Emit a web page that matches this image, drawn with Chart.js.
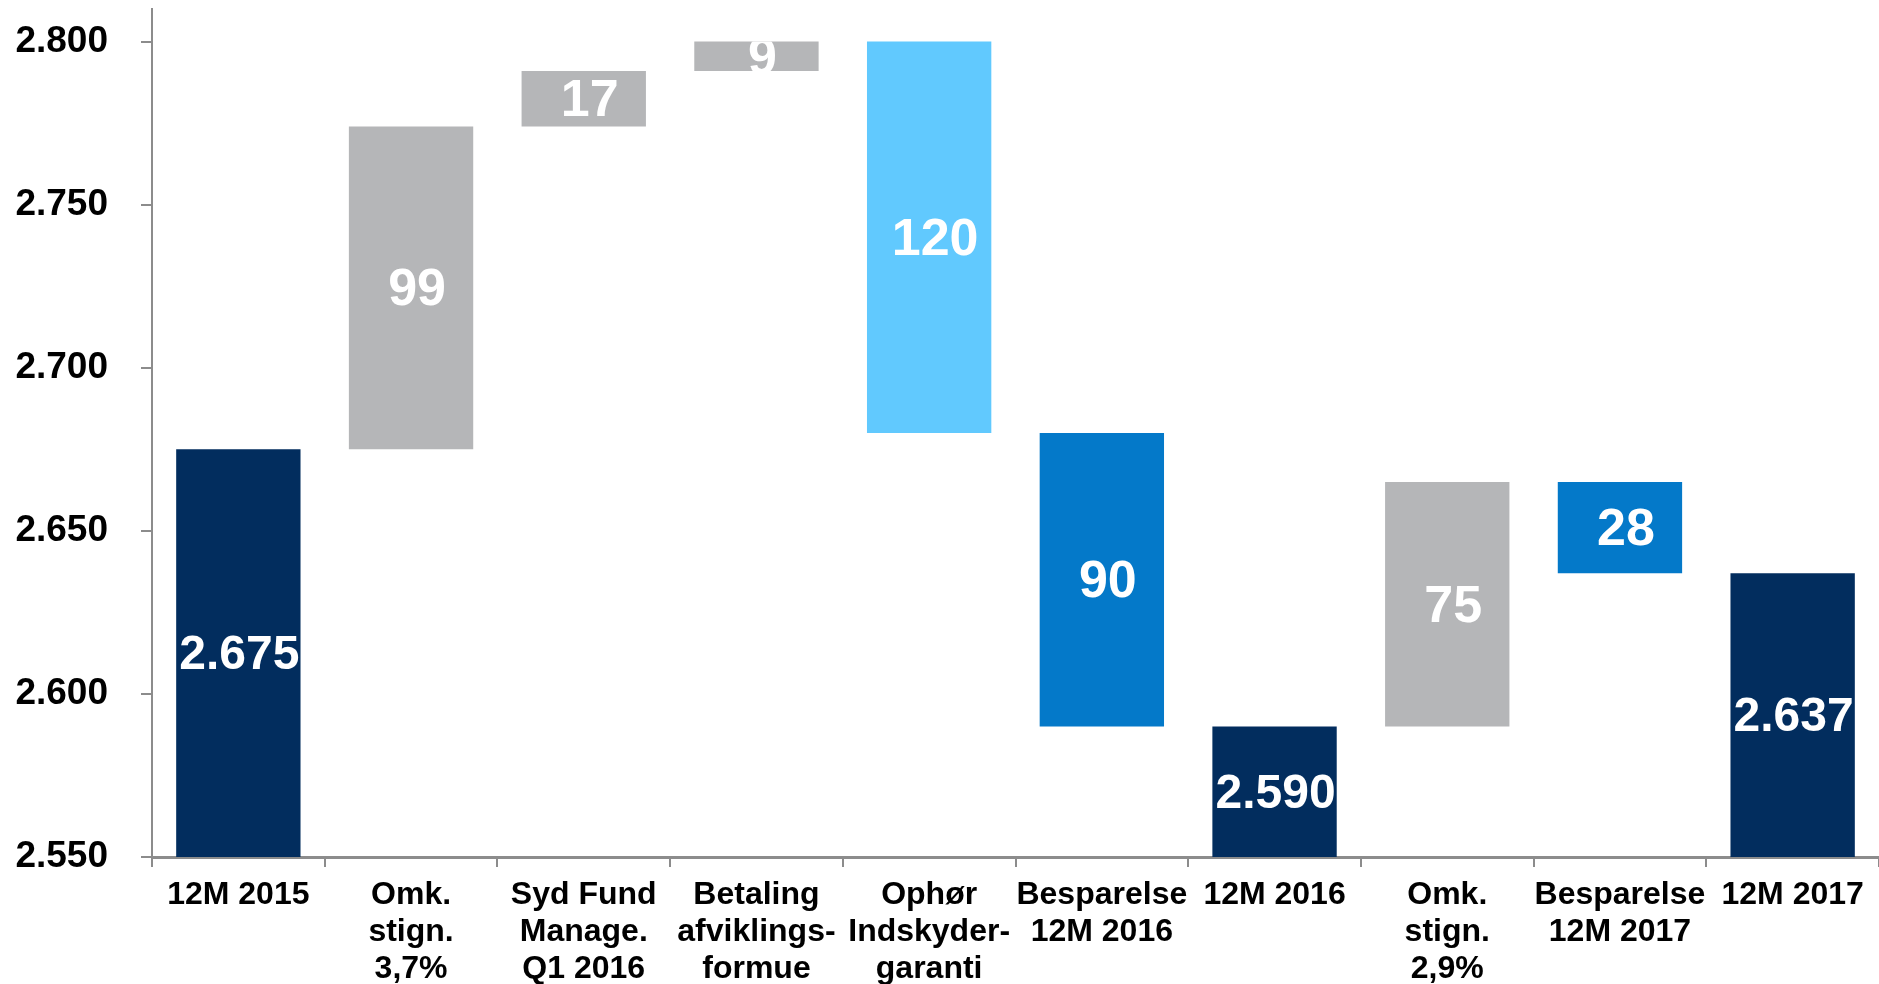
<!DOCTYPE html>
<html>
<head>
<meta charset="utf-8">
<style>
  html, body { margin: 0; padding: 0; background: #fff; }
  #wrap { width: 1879px; height: 984px; }
</style>
<script src="https://cdn.jsdelivr.net/npm/chart.js@4"></script>
</head>
<body>
<div id="wrap"><canvas id="costChart" width="1879" height="984"></canvas></div>
<script>
// Waterfall data (mio. kr.)
const categories = [
  ["12M 2015"],
  ["Omk.", "stign.", "3,7%"],
  ["Syd Fund", "Manage.", "Q1 2016"],
  ["Betaling", "afviklings-", "formue"],
  ["Ophør", "Indskyder-", "garanti"],
  ["Besparelse", "12M 2016"],
  ["12M 2016"],
  ["Omk.", "stign.", "2,9%"],
  ["Besparelse", "12M 2017"],
  ["12M 2017"]
];
const barStart = [2550, 2675, 2774, 2791, 2680, 2590, 2550, 2590, 2637, 2550];
const barEnd = [2675, 2774, 2791, 2800, 2800, 2680, 2590, 2665, 2665, 2637];
const barLabels = ["2.675", "99", "17", "9", "120", "90", "2.590", "75", "28", "2.637"];
const yTicks = [2550, 2600, 2650, 2700, 2750, 2800];

const barColors = ["#022d5e", "#b5b6b8", "#b5b6b8", "#b5b6b8", "#61c9fe", "#0479c9", "#022d5e", "#b5b6b8", "#0479c9", "#022d5e"];

const FONT = "'Liberation Sans', Arial, sans-serif";
const Y_MIN = 2550;

// white value labels, clipped to their bar like in the original slide
const barLabelPlugin = {
  id: "barLabels",
  afterDatasetsDraw(chart) {
    const ctx = chart.ctx;
    const meta = chart.getDatasetMeta(0);
    meta.data.forEach((bar, i) => {
      const top = Math.min(bar.y, bar.base);
      const h = Math.abs(bar.base - bar.y);
      const left = bar.x - bar.width / 2;
      const isTotal = barStart[i] === Y_MIN;
      ctx.save();
      ctx.beginPath();
      ctx.rect(left, top, bar.width, h);
      ctx.clip();
      ctx.fillStyle = "#ffffff";
      ctx.font = "bold " + (isTotal ? 48 : 52) + "px " + FONT;
      ctx.textAlign = "center";
      ctx.textBaseline = "middle";
      ctx.fillText(barLabels[i], bar.x + (isTotal ? 1 : 6), top + h / 2 + 3);
      ctx.restore();
    });
  }
};

new Chart(document.getElementById("costChart").getContext("2d"), {
  type: "bar",
  data: {
    labels: categories,
    datasets: [{
      data: barStart.map((s, i) => [s, barEnd[i]]),
      backgroundColor: barColors,
      borderWidth: 0,
      borderSkipped: false,
      categoryPercentage: 1,
      barPercentage: 0.72
    }]
  },
  options: {
    responsive: false,
    animation: false,
    layout: { padding: { top: 9, left: 0, right: 0, bottom: 0 } },
    plugins: {
      legend: { display: false },
      tooltip: { enabled: false }
    },
    scales: {
      x: {
        grid: {
          display: true,
          offset: true,
          drawOnChartArea: false,
          drawTicks: true,
          tickLength: 10,
          color: "#8c8c8c",
          lineWidth: 2
        },
        border: { display: true, color: "#8c8c8c", width: 3 },
        ticks: {
          color: "#000",
          font: { family: FONT, size: 32, weight: "bold", lineHeight: 1.15 },
          padding: 10,
          autoSkip: false,
          maxRotation: 0,
          minRotation: 0
        },
        afterFit(scale) {
          scale.height = 127;
          scale.paddingLeft = 0;
          scale.paddingRight = 0;
        }
      },
      y: {
        min: Y_MIN,
        max: 2810,
        afterBuildTicks(scale) {
          scale.ticks = yTicks.map(v => ({ value: v }));
        },
        grid: {
          display: true,
          drawOnChartArea: false,
          drawTicks: true,
          tickLength: 11,
          color: "#8c8c8c",
          lineWidth: 2
        },
        border: { display: true, color: "#8c8c8c", width: 2 },
        ticks: {
          color: "#000",
          font: { family: FONT, size: 37, weight: "bold" },
          padding: 33,
          callback: v => (v / 1000).toFixed(3)
        },
        afterFit(scale) {
          scale.width = 152;
          scale.paddingTop = 0;
          scale.paddingBottom = 0;
        }
      }
    }
  },
  plugins: [barLabelPlugin]
});
</script>
</body>
</html>
